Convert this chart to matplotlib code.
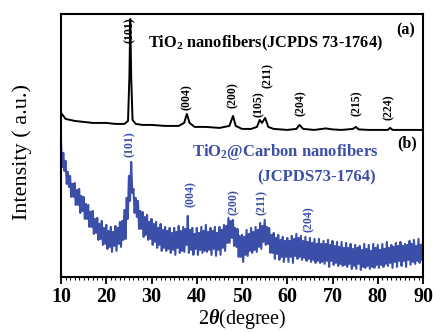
import matplotlib
matplotlib.use("Agg")
import matplotlib.pyplot as plt
import numpy as np
from matplotlib.ticker import MultipleLocator

plt.rcParams['font.family'] = ['Liberation Serif', 'DejaVu Serif']
plt.rcParams['font.weight'] = 'bold'
plt.rcParams['mathtext.fontset'] = 'custom'
plt.rcParams['mathtext.rm'] = 'Liberation Serif:bold'
plt.rcParams['mathtext.it'] = 'Liberation Serif:italic:bold'

blue = '#3c4fa8'

# (a) TiO2 nanofibers - 2theta (deg) and intensity (a.u., offset)
tio2_x = [10, 10.5, 11, 12, 13, 14, 15, 17, 20, 22, 24, 24.8, 25.1, 25.3, 25.5, 25.8,
          26.5, 28, 30, 33, 36, 37.2, 37.8, 38.4, 39.5, 42, 45, 47.2, 48.0, 48.6,
          50, 52, 53.3, 53.9, 54.4, 55.1, 55.8, 57, 60, 62, 62.7, 63.5, 66, 68.5,
          70, 72, 74.5, 75.1, 75.8, 78, 82.2, 82.7, 83.3, 86, 90]
tio2_y = [164, 161, 158, 157, 156, 155.5, 155, 154, 154, 153, 153, 156, 200, 258, 200, 157,
          153, 152, 152, 151, 151, 154, 163, 154, 150, 150, 149, 151, 161, 151,
          148, 148, 150, 157, 154, 159, 150, 148, 147, 148, 152, 148, 147, 148.5,
          147.5, 147, 148, 150, 147.5, 147, 147, 149, 147, 147, 147]

# (b) TiO2@Carbon nanofibers - noisy pattern, upper and lower excursions every 0.5 deg
cnf_x = np.arange(10, 90.01, 0.5)
cnf_hi = [134, 124, 116, 105, 101, 93, 94, 87, 88, 81,
          80, 73, 72, 65, 66, 58, 59, 53, 56, 49,
          52, 46, 50, 45, 51, 49, 55, 56, 67, 79,
          101, 115, 88, 79, 76, 66, 65, 60, 62, 55,
          58, 53, 55, 49, 53, 47, 50, 46, 49, 44,
          49, 45, 51, 46, 50, 48, 61, 47, 49, 43,
          49, 44, 50, 46, 52, 45, 49, 46, 50, 44,
          50, 47, 52, 51, 59, 56, 57, 49, 48, 41,
          42, 40, 47, 43, 49, 45, 50, 47, 54, 51,
          57, 50, 49, 42, 44, 39, 42, 37, 40, 36,
          39, 36, 41, 38, 43, 39, 41, 36, 40, 35,
          39, 34, 38, 33, 38, 33, 36, 33, 37, 32,
          36, 31, 35, 30, 35, 29, 34, 29, 33, 28,
          32, 29, 31, 27, 33, 28, 32, 26, 33, 29,
          32, 27, 33, 28, 35, 29, 32, 30, 34, 31,
          35, 31, 33, 32, 36, 33, 37, 31, 38, 32,
          36]
cnf_lo = [110, 106, 93, 90, 80, 80, 72, 72, 64, 66,
          58, 58, 50, 50, 43, 44, 37, 38, 32, 33,
          28, 30, 25, 31, 26, 33, 30, 37, 38, 58,
          76, 84, 64, 60, 48, 48, 40, 42, 37, 38,
          32, 35, 29, 32, 26, 29, 26, 28, 24, 27,
          22, 29, 24, 26, 25, 32, 24, 27, 22, 28,
          22, 27, 24, 26, 25, 27, 22, 28, 21, 27,
          22, 29, 26, 34, 34, 39, 31, 30, 20, 20,
          15, 22, 21, 26, 24, 27, 25, 30, 28, 35,
          32, 33, 24, 24, 18, 23, 17, 20, 15, 20,
          15, 20, 14, 21, 18, 20, 17, 19, 16, 18,
          15, 17, 14, 16, 14, 15, 13, 16, 10, 16,
          12, 14, 11, 13, 11, 12, 10, 13, 8, 11,
          8, 13, 7, 10, 9, 11, 8, 10, 9, 12,
          9, 12, 10, 13, 11, 14, 9, 15, 10, 16,
          11, 16, 10, 17, 12, 15, 13, 16, 14, 17,
          15]

# peak labels: (text, 2theta, height)
tio2_labels = [('(101)', 25.3, 247), ('(004)', 37.8, 180), ('(200)', 48.0, 182),
               ('(105)', 53.8, 173), ('(211)', 55.6, 201), ('(204)', 63.0, 174),
               ('(215)', 75.4, 174), ('(224)', 82.5, 170)]
cnf_labels = [('(101)', 25.3, 133), ('(004)', 38.7, 83), ('(200)', 48.2, 75),
              ('(211)', 54.4, 74), ('(204)', 64.8, 58)]

fig = plt.figure(figsize=(4.33, 3.32), dpi=100)
ax = fig.add_axes([0.141, 0.166, 0.836, 0.792])

# interleave upper and lower excursions for the noisy trace
bx = np.empty(2 * len(cnf_x))
by = np.empty(2 * len(cnf_x))
bx[0::2] = cnf_x
bx[1::2] = cnf_x + 0.25
by[0::2] = cnf_hi
by[1::2] = cnf_lo
ax.plot(bx, by, color=blue, lw=1.5)
ax.plot(tio2_x, tio2_y, color='black', lw=1.4)

for t, x, y in tio2_labels:
    ax.text(x, y, t, rotation=90, ha='center', va='center', fontsize=8.5, color='black')
for t, x, y in cnf_labels:
    ax.text(x, y, t, rotation=90, ha='center', va='center', fontsize=8.5, color=blue)

ax.text(29.2, 234, 'TiO$_2$ nanofibers(JCPDS 73-1764)', ha='left', va='center', fontsize=11.8)
ax.text(86.2, 247, '(a)', ha='center', va='center', fontsize=11.5)
ax.text(59.5, 125, 'TiO$_2$@Carbon nanofibers', ha='center', va='center', fontsize=12, color=blue)
ax.text(66.4, 100, '(JCPDS73-1764)', ha='center', va='center', fontsize=12, color=blue)
ax.text(86.5, 134, '(b)', ha='center', va='center', fontsize=11.5)

ax.set_xlim(10, 90)
ax.set_ylim(0, 263)
ax.set_yticks([])
ax.xaxis.set_major_locator(MultipleLocator(10))
ax.xaxis.set_minor_locator(MultipleLocator(1))
ax.tick_params(axis='x', which='major', direction='out', length=5, width=1.3, labelsize=14.5, pad=2)
ax.tick_params(axis='x', which='minor', direction='out', length=2.5, width=0.8)
for s in ax.spines.values():
    s.set_linewidth(1.5)

ax.set_xlabel(r'2$\theta$(degree)', fontsize=14.5, labelpad=0)
ax.set_ylabel('Intensity ( a.u.)', fontsize=16)
ax.yaxis.set_label_coords(-0.08, 0.475)

fig.savefig('out.png', dpi=100)
